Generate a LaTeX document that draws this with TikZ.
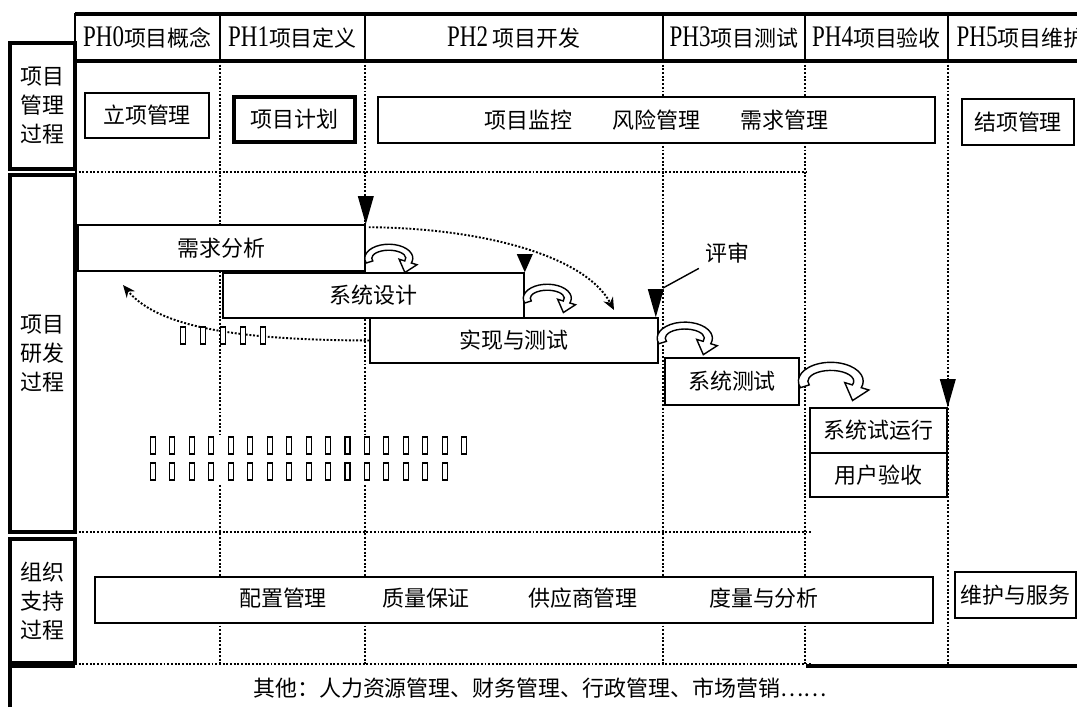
\documentclass[tikz,border=0pt]{standalone}
\usepackage{fontspec}
\setmainfont{Noto Sans CJK SC}
\newfontfamily\phfont{Liberation Serif}[FakeStretch=0.77]
\newcommand{\phtag}[1]{{\phfont\fontsize{17}{17}\selectfont #1}}
\usetikzlibrary{arrows.meta,calc}

\begin{document}
\begin{tikzpicture}[x=0.02cm,y=-0.02cm,font=\fontsize{12.5}{15}\selectfont,
        wh/.style 2 args={minimum width=#1*0.02cm,minimum height=#2*0.02cm},
        grid/.style={line width=1.1pt,densely dotted},
        cell/.style={draw,line width=1.1pt,inner sep=0pt},
        side/.style={draw,line width=1.8pt,inner sep=0pt,align=center,font=\fontsize{12.5}{16.5}\selectfont},
        task/.style={draw,fill=white,line width=0.9pt,inner sep=0pt},
        flow/.style={grid,-{Stealth[length=7pt,width=6pt]}},
        tofu/.style={line width=0.6pt,fill=white},
        pics/gate/.style={code={\fill (-8,-#1)--(8,-#1)--(0,0)--cycle;}},
        pics/hookarrow/.style={code={
            \draw[fill=white,line width=0.8pt] (160:24 and 14) arc (160:380:24 and 14) -- (20:30 and 19) -- (16.1,14.3) -- (20:11 and 3) -- (20:17 and 8) arc (380:160:17 and 8) -- cycle;
        }}]
        \useasboundingbox (0,0) rectangle (1077,707);
        % phase grid
        \foreach \x in {220,365,663,805,948}
            \draw[grid] (\x,61) -- (\x,664);
        \draw[grid] (75,172) -- (806,172);
        \draw[grid] (75,532) -- (812,532);
        \draw[grid] (75,664) -- (812,664);
        % header
        \node[cell,wh={145}{47}] (ph0) at (147.5,37.5) {\phtag{PH0}项目概念};
        \node[cell,wh={145}{47}] (ph1) at (292.5,37.5) {\phtag{PH1}项目定义};
        \node[cell,wh={298}{47}] (ph2) at (514,37.5) {\phtag{PH2} 项目开发};
        \node[cell,wh={142}{47}] (ph3) at (734,37.5) {\phtag{PH3}项目测试};
        \node[cell,wh={143}{47}] (ph4) at (876.5,37.5) {\phtag{PH4}项目验收};
        \node[cell,wh={146}{47}] (ph5) at (1021,37.5) {\phtag{PH5}项目维护};
        \draw[line width=2pt] (75,14) -- (1100,14) (75,61) -- (1100,61);
        % process rows
        \node[side,wh={65}{126}] (pm) at (42.5,106) {项目\\管理\\过程};
        \node[side,wh={65}{357}] (rd) at (42.5,353.5) {项目\\研发\\过程};
        \node[side,wh={65}{124}] (os) at (42.5,601) {组织\\支持\\过程};
        \draw[line width=1.8pt] (10,707) -- (10,666) -- (75,666) (806,666) -- (1100,666);
        \node (other) at (540,688) {其他：人力资源管理、财务管理、行政管理、市场营销……};
        % management
        \node[task,line width=1.1pt,wh={124}{45}] (lx) at (147,115.5) {立项管理};
        \node[task,line width=2pt,wh={121}{45}] (jh) at (294.5,119.5) {项目计划};
        \node[task,wh={557}{46}] (jk) at (656.5,120) {项目监控\hspace{8mm}风险管理\hspace{8mm}需求管理};
        \node[task,wh={112}{46}] (jx) at (1018,122) {结项管理};
        % development
        \node[task,wh={287}{46}] (rq) at (221.5,248) {需求分析};
        \node[task,wh={301}{45}] (sd) at (373.5,295.5) {系统设计};
        \node[task,wh={288}{45}] (sx) at (514,340.5) {实现与测试};
        \node[task,wh={134}{47}] (st) at (732,381.5) {系统测试};
        \node[task,wh={137}{45}] (sy) at (878.5,430.5) {系统试运行};
        \node[task,wh={137}{44}] (ua) at (878.5,475) {用户验收};
        \pic at (rq.north east) {gate=28};
        \pic at (sd.north east) {gate=18};
        \pic at ($(sx.north east)+(-3,0)$) {gate=28};
        \pic at (sy.north east) {gate=28};
        \pic at ($(rq.north east)+(23,34)$) {hookarrow};
        \pic at ($(sd.north east)+(22.5,26)$) {hookarrow};
        \pic[scale=1.15] at ($(sx.north east)+(26,21)$) {hookarrow};
        \pic[scale=1.35] at ($(st.north east)+(31,24)$) {hookarrow};
        \coordinate (fa) at (614,310);
        \coordinate (fb) at (123,285);
        \draw[flow] ($(rq.north east)+(3,3)$) .. controls (480,228) and (585,255) .. (fa);
        \draw[flow] (sx.west) .. controls (250,340) and (160,330) .. (fb);
        \foreach \x in {183,203,223,243,263}
            \draw[tofu] (\x-2.5,327) rectangle ++(5,17);
        \fill[white] (146,435) rectangle (470,485);
        \foreach \i in {0,...,16}
            \draw[tofu] ({150.5+19.45*\i},437) rectangle ++(5,17);
        \foreach \i in {0,...,15}
            \draw[tofu] ({150.5+19.45*\i},463) rectangle ++(5,17);
        \node (ps) at (727,253) {评审};
        \coordinate (rv) at (663,288);
        \draw[line width=0.8pt] (ps) -- (rv);
        % support
        \node[task,line width=1.2pt,wh={838}{46}] (sp) at (514,600) {};
        \node (cm) at (283,598) {配置管理};
        \node (qa) at (426,598) {质量保证};
        \node (sup) at (583,598) {供应商管理};
        \node (msr) at (764,598) {度量与分析};
        \node[task,line width=1.1pt,wh={121}{46}] (ms) at (1015.5,595) {维护与服务};
\end{tikzpicture}
\end{document}
